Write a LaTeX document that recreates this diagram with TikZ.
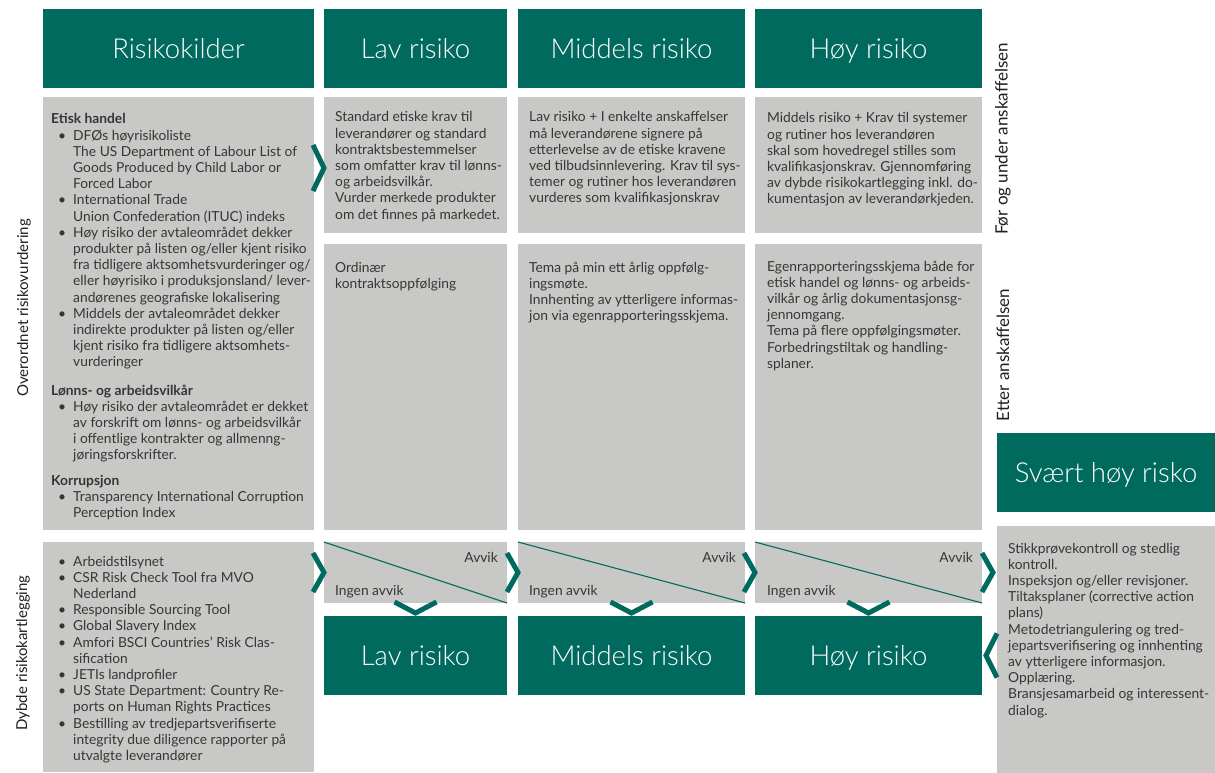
\documentclass[tikz,border=0pt]{standalone}
\usepackage{fontspec}
\setmainfont{Lato}
\IfFontExistsTF{Lato Light}{\newfontfamily\hdrfont{Lato Light}}{\newfontfamily\hdrfont{Lato}}
\usetikzlibrary{calc}
\definecolor{dfteal}{HTML}{006A5F}
\definecolor{dfgray}{HTML}{C8C9C6}
\definecolor{dftext}{HTML}{363636}
\newcommand\bul{\makebox[22pt][l]{\hspace*{7pt}\textbullet}}
\newcommand\tlines[1]{\begin{tabular}[t]{@{}l@{}}#1\end{tabular}}
\begin{document}
\begin{tikzpicture}[x=1pt,y=-1pt,
  box/.style={fill=dfgray, draw=none, anchor=north west, inner sep=0pt, outer sep=0pt},
  hdr/.style={fill=dfteal, draw=none, text=white, anchor=north west, inner sep=0pt, outer sep=0pt,
    font=\hdrfont\fontsize{27.5}{30}\selectfont, text height=19.5pt, text depth=0pt},
  txt/.style={anchor=base west, align=left, inner sep=0pt, text=dftext,
    font=\fontsize{13.8}{16.2}\selectfont},
  lbl/.style={rotate=90, inner sep=0pt, text=black!88, font=\fontsize{15}{18}\selectfont},
  rlbl/.style={lbl, font=\fontsize{17}{20}\selectfont},
  chev/.style={draw=dfteal, line width=5pt, line join=miter, line cap=butt},
  diag/.style={draw=dfteal, line width=1.1pt}]
\useasboundingbox (0,0) rectangle (1215,773);
\fill[white] (0,0) rectangle (1215,773);

% header row
\node[hdr, minimum width=271, minimum height=79] (hsrc) at (43,9) {Risikokilder};
\node[hdr, minimum width=183, minimum height=79] (hlav) at (324,9) {Lav risiko};
\node[hdr, minimum width=227, minimum height=79] (hmid) at (518,9) {Middels risiko};
\node[hdr, minimum width=227, minimum height=79] (hhoy) at (755,9) {Høy risiko};

% gray boxes
\node[box, minimum width=271, minimum height=433] (src) at (43,97) {};
\node[box, minimum width=271, minimum height=230] (dyb) at (43,542) {};
\node[box, minimum width=183, minimum height=136] (lav1) at (324,97) {};
\node[box, minimum width=227, minimum height=136] (mid1) at (518,97) {};
\node[box, minimum width=227, minimum height=136] (hoy1) at (755,97) {};
\node[box, minimum width=183, minimum height=286] (lav2) at (324,244) {};
\node[box, minimum width=227, minimum height=286] (mid2) at (518,244) {};
\node[box, minimum width=227, minimum height=286] (hoy2) at (755,244) {};
\node[box, minimum width=183, minimum height=61] (lav3) at (324,542) {};
\node[box, minimum width=227, minimum height=61] (mid3) at (518,542) {};
\node[box, minimum width=227, minimum height=61] (hoy3) at (755,542) {};
\node[box, minimum width=218, minimum height=247] (tilt) at (997,526) {};

% bottom teal boxes
\node[hdr, minimum width=183, minimum height=79] (blav) at (324,616) {Lav risiko};
\node[hdr, minimum width=227, minimum height=79] (bmid) at (518,616) {Middels risiko};
\node[hdr, minimum width=227, minimum height=79] (bhoy) at (755,616) {Høy risiko};
\node[hdr, minimum width=218, minimum height=79] (shoy) at (997,433) {Svært høy risko};

% diagonals
\draw[diag] (lav3.north west) -- (lav3.south east);
\draw[diag] (mid3.north west) -- (mid3.south east);
\draw[diag] (hoy3.north west) -- (hoy3.south east);

% side labels
\node[lbl] (lover) at (24,308) {Overordnet risikovurdering};
\node[lbl] (ldyb) at (23,653) {Dybde risikokartlegging};
\node[rlbl] (lfor) at (1003,139) {Før og under anskaffelsen};
\node[rlbl] (letter) at (1003,355) {Etter anskaffelsen};

% left column text
\node[txt] (tsrc) at (51,124) {\begin{tabular}[t]{@{}l@{}l@{}}
\multicolumn{2}{@{}l@{}}{\bfseries Etisk handel}\\
\bul & DFØs høyrisikoliste\\
 & The US Department of Labour List of\\
 & Goods Produced by Child Labor or\\
 & Forced Labor\\
\bul & International Trade\\
 & Union Confederation (ITUC) indeks\\
\bul & Høy risiko der avtaleområdet dekker\\
 & produkter på listen og/eller kjent risiko\\
 & fra tidligere aktsomhetsvurderinger og/\\
 & eller høyrisiko i produksjonsland/ lever-\\
 & andørenes geografiske lokalisering\\
\bul & Middels der avtaleområdet dekker\\
 & indirekte produkter på listen og/eller\\
 & kjent risiko fra tidligere aktsomhets-\\
 & vurderinger\\[12pt]
\multicolumn{2}{@{}l@{}}{\bfseries Lønns- og arbeidsvilkår}\\
\bul & Høy risiko der avtaleområdet er dekket\\
 & av forskrift om lønns- og arbeidsvilkår\\
 & i offentlige kontrakter og allmenng-\\
 & jøringsforskrifter.\\[9pt]
\multicolumn{2}{@{}l@{}}{\bfseries Korrupsjon}\\
\bul & Transparency International Corruption\\
 & Perception Index
\end{tabular}};

\node[txt] (tdyb) at (51,566) {\begin{tabular}[t]{@{}l@{}l@{}}
\bul & Arbeidstilsynet\\
\bul & CSR Risk Check Tool fra MVO\\
 & Nederland\\
\bul & Responsible Sourcing Tool\\
\bul & Global Slavery Index\\
\bul & Amfori BSCI Countries’ Risk Clas-\\
 & sification\\
\bul & JETIs landprofiler\\
\bul & US State Department: Country Re-\\
 & ports on Human Rights Practices\\
\bul & Bestilling av tredjepartsverifiserte\\
 & integrity due diligence rapporter på\\
 & utvalgte leverandører
\end{tabular}};

% row 1 texts
\node[txt] (tlav1) at ($(lav1.north west)+(11,25)$) {\tlines{Standard etiske krav til\\leverandører og standard\\kontraktsbestemmelser\\som omfatter krav til lønns-\\og arbeidsvilkår.\\Vurder merkede produkter\\om det finnes på markedet.}};
\node[txt] (tmid1) at ($(mid1.north west)+(11,25)$) {\tlines{Lav risiko + I enkelte anskaffelser\\må leverandørene signere på\\etterlevelse av de etiske kravene\\ved tilbudsinnlevering. Krav til sys-\\temer og rutiner hos leverandøren\\vurderes som kvalifikasjonskrav}};
\node[txt] (thoy1) at ($(hoy1.north west)+(12,26)$) {\tlines{Middels risiko + Krav til systemer\\og rutiner hos leverandøren\\skal som hovedregel stilles som\\kvalifikasjonskrav. Gjennomføring\\av dybde risikokartlegging inkl. do-\\kumentasjon av leverandørkjeden.}};

% row 2 texts
\node[txt] (tlav2) at ($(lav2.north west)+(11,28)$) {\tlines{Ordinær\\kontraktsoppfølging}};
\node[txt] (tmid2) at ($(mid2.north west)+(11,28)$) {\tlines{Tema på min ett årlig oppfølg-\\ingsmøte.\\Innhenting av ytterligere informas-\\jon via egenrapporteringsskjema.}};
\node[txt] (thoy2) at ($(hoy2.north west)+(12,27)$) {\tlines{Egenrapporteringsskjema både for\\etisk handel og lønns- og arbeids-\\vilkår og årlig dokumentasjonsg-\\jennomgang.\\Tema på flere oppfølgingsmøter.\\Forbedringstiltak og handling-\\splaner.}};

% right box text
\node[txt] (ttilt) at ($(tilt.north west)+(11,27)$) {\tlines{Stikkprøvekontroll og stedlig\\kontroll.\\Inspeksjon og/eller revisjoner.\\Tiltaksplaner (corrective action\\plans)\\Metodetriangulering og tred-\\jepartsverifisering og innhenting\\av ytterligere informasjon.\\Opplæring.\\Bransjesamarbeid og interessent-\\dialog.}};

% avvik labels
\node[txt, anchor=base east] (alav) at ($(lav3.north east)+(-9,20)$) {Avvik};
\node[txt, anchor=base west] (ilav) at ($(lav3.south west)+(11,-8)$) {Ingen avvik};
\node[txt, anchor=base east] (amid) at ($(mid3.north east)+(-9,20)$) {Avvik};
\node[txt, anchor=base west] (imid) at ($(mid3.south west)+(11,-8)$) {Ingen avvik};
\node[txt, anchor=base east] (ahoy) at ($(hoy3.north east)+(-9,20)$) {Avvik};
\node[txt, anchor=base west] (ihoy) at ($(hoy3.south west)+(12,-8)$) {Ingen avvik};

% chevrons (right-pointing)
\draw[chev] ($(lav1.west)+(-11,-20)$) -- ($(lav1.west)+(0,3)$) -- ($(lav1.west)+(-11,26)$);
\draw[chev] ($(lav3.west)+(-11,-19.5)$) -- (lav3.west) -- ($(lav3.west)+(-11,19.5)$);
\draw[chev] ($(mid3.west)+(-11,-19.5)$) -- (mid3.west) -- ($(mid3.west)+(-11,19.5)$);
\draw[chev] ($(hoy3.west)+(-11,-19.5)$) -- (hoy3.west) -- ($(hoy3.west)+(-11,19.5)$);
\draw[chev] ($(hoy3.east)+(0,-19.5)$) -- ($(hoy3.east)+(11,0)$) -- ($(hoy3.east)+(0,19.5)$);
% chevron (left-pointing) into Høy risiko
\draw[chev] ($(bhoy.east)+(15,-22)$) -- ($(bhoy.east)+(4,0)$) -- ($(bhoy.east)+(15,22)$);
% chevrons (down)
\draw[chev] ($(lav3.south)+(-21,-1)$) -- ($(lav3.south)+(0,10)$) -- ($(lav3.south)+(21,-1)$);
\draw[chev] ($(mid3.south)+(-21,-1)$) -- ($(mid3.south)+(0,10)$) -- ($(mid3.south)+(21,-1)$);
\draw[chev] ($(hoy3.south)+(-21,-1)$) -- ($(hoy3.south)+(0,10)$) -- ($(hoy3.south)+(21,-1)$);
\end{tikzpicture}
\end{document}
